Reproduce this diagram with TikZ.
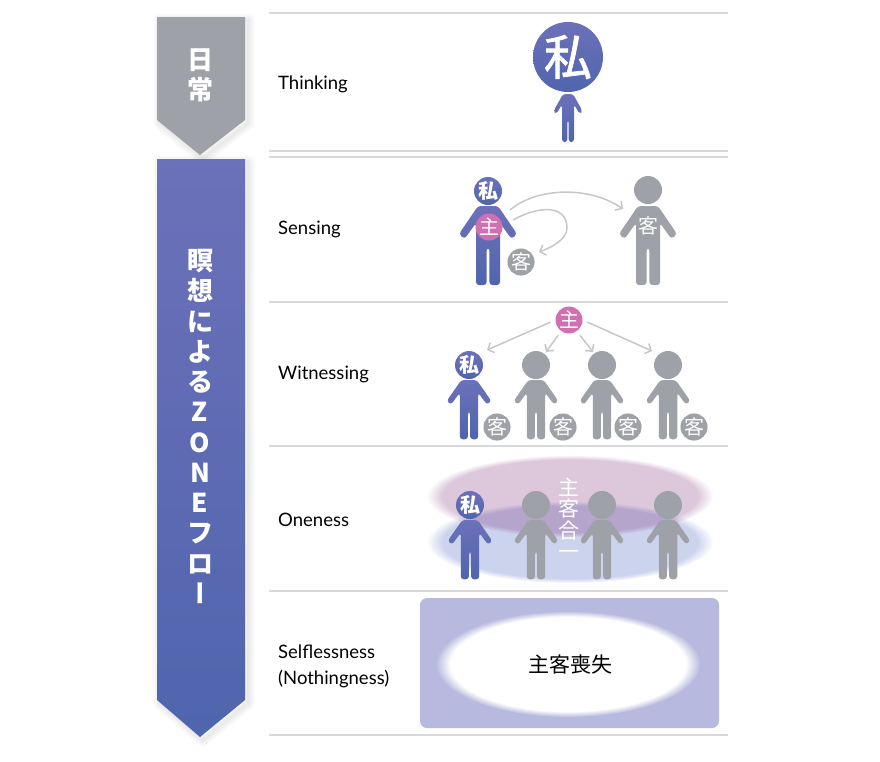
\documentclass[tikz,border=0pt]{standalone}
\usepackage{fontspec}
\setmainfont{Lato}
\newfontfamily\cjk{Noto Sans CJK JP}
\newfontfamily\cjkmid[FakeBold=1.6]{Noto Sans CJK JP}
\newfontfamily\cjkvert[RawFeature=+vert]{Noto Sans CJK JP}
\usetikzlibrary{arrows.meta,fadings,positioning}
\definecolor{rulegrey}{HTML}{D9D9D9}
\definecolor{figgrey}{HTML}{9FA1A8}
\definecolor{figblueA}{HTML}{6C71B9}
\definecolor{figblueB}{HTML}{4F65AE}
\definecolor{subjpink}{HTML}{D070B0}
\definecolor{arrowgrey}{HTML}{C6C8C6}
\pgfdeclareradialshading{softshade}{\pgfpointorigin}{color(0bp)=(pgftransparent!0); color(22.2bp)=(pgftransparent!0); color(25bp)=(pgftransparent!100); color(50bp)=(pgftransparent!100)}
\pgfdeclarefading{softedge}{\pgfuseshading{softshade}}
\tikzset{
    rulerow/.style={draw=rulegrey, line width=1.6pt},
    bluefill/.style={top color=figblueA, bottom color=figblueB},
    greyfill/.style={fill=figgrey},
    headnode/.style={circle, minimum size=28pt, inner sep=0pt, text=white, font=\cjk\bfseries\fontsize{20}{20}\selectfont},
    badge/.style={circle, minimum size=27pt, inner sep=0pt, text=white, font=\cjk\fontsize{20}{20}\selectfont},
    rowlabel/.style={anchor=west, inner sep=0pt, align=left, font=\fontsize{18.5}{26}\selectfont},
    flowarrow/.style={draw=arrowgrey, line width=1.5pt, -{Straight Barb[length=5pt, width=11pt]}},
    body/.pic={
        \path[pic actions, rounded corners=3pt] (-10,0) -- (10,0) -- (29,28) -- (23.5,33) -- (12,17) -- (12,79) -- (1.4,79) -- (1.4,42) -- (-1.4,42) -- (-1.4,79) -- (-12,79) -- (-12,17) -- (-23.5,33) -- (-29,28) -- cycle;
    }
}
\begin{document}
\begin{tikzpicture}[x=1pt, y=-1pt]
    \useasboundingbox (0,0) rectangle (880,761);
    % Row rules
    \foreach \y in {13,151,157,302,446,591,735} {
        \draw[rulerow] (269,\y) -- (728,\y);
    }
    % Soft shadows of the two bands
    \foreach \w in {2,4,...,14} {
        \draw[black, opacity=0.010, line width=\w pt, line join=round] (160,20) -- (248,20) -- (248,123) -- (203,158) -- (160,123) -- cycle;
        \draw[black, opacity=0.010, line width=\w pt, line join=round] (160,162) -- (248,162) -- (248,703) -- (203,740) -- (160,703) -- cycle;
    }
    % Bands on the left
    \fill[figgrey] (157,17) -- (245,17) -- (245,120) -- (200,155) -- (157,120) -- cycle;
    \shade[bluefill] (157,159) -- (245,159) -- (245,700) -- (200,737) -- (157,700) -- cycle;
    \node[text=white, align=center, font=\cjk\bfseries\fontsize{26}{30}\selectfont] (daily) at (200,75.5) {日\\常};
    \node[text=white, align=center, font=\cjk\bfseries\fontsize{26}{30.25}\selectfont] (zone) at (200,426.5) {瞑\\想\\に\\よ\\る\\Z\\O\\N\\E\\フ\\ロ\\{\cjkvert ー}};
    % Row labels
    \node[rowlabel] (thinking) at (278,84) {Thinking};
    \node[rowlabel] (sensing) at (278,229) {Sensing};
    \node[rowlabel] (witnessing) at (278,374) {Witnessing};
    \node[rowlabel] (oneness) at (278,520) {Oneness};
    \node[rowlabel] (selfless) at (278,666) {Selflessness\\(Nothingness)};
    % Thinking
    \pic[bluefill, xscale=0.5, yscale=0.61] at (568,94) {body};
    \node[headnode, bluefill, minimum size=70pt, font=\cjkmid\fontsize{48}{48}\selectfont] (meT) at (568,57) {私};
    % Sensing
    \pic[bluefill] at (488,206) {body};
    \node[headnode, bluefill] (meS) at (488,191) {私};
    \node[badge, fill=subjpink] (subjS) at (489,227) {主};
    \node[badge, greyfill] (objS) at (521,262) {客};
    \pic[greyfill] at (648,206) {body};
    \node[headnode, greyfill] (headS) at (648,190) {};
    \node[text=white, inner sep=0pt, font=\cjk\fontsize{20}{20}\selectfont] (objB) at (648,226) {客};
    \coordinate (startA) at (510,210);
    \coordinate (endA) at (623,209);
    \coordinate (startB) at (513,220);
    \coordinate (endB) at (539,252);
    \draw[flowarrow] (startA) .. controls (537,187) and (590,186) .. (endA);
    \draw[flowarrow] (startB) .. controls (540,205) and (567,205) .. (567,228) .. controls (567,240) and (550,248) .. (endB);
    % Witnessing
    \pic[bluefill, xscale=0.77, yscale=0.75] at (469,380) {body};
    \node[headnode, bluefill] (meW) at (469,365) {私};
    \foreach \x/\n in {536/a,602/b,668/c} {
        \pic[greyfill, xscale=0.77, yscale=0.75] at (\x,380) {body};
        \node[headnode, greyfill] (head\n) at (\x,365) {};
    }
    \foreach \x/\n in {497/a,563/b,628/c,694/d} {
        \node[badge, greyfill] (obj\n) at (\x,427) {客};
    }
    \node[badge, fill=subjpink] (subjW) at (569,320) {主};
    \coordinate (endC) at (487,350);
    \coordinate (endD) at (546,352);
    \coordinate (endE) at (593,352);
    \coordinate (endF) at (652,351);
    \draw[flowarrow, shorten <=5pt] (subjW.180) -- (endC);
    \draw[flowarrow, shorten <=5pt] (subjW.235) -- (endD);
    \draw[flowarrow, shorten <=5pt] (subjW.305) -- (endE);
    \draw[flowarrow, shorten <=5pt] (subjW.0) -- (endF);
    % Oneness
    \fill[path fading=softedge, fit fading=true, color={rgb,255:red,185;green,195;blue,230}, opacity=0.72] (570,542) ellipse [x radius=143, y radius=41];
    \fill[path fading=softedge, fit fading=true, color={rgb,255:red,100;green,0;blue,90}, opacity=0.22] (570,496) ellipse [x radius=143, y radius=41];
    \pic[bluefill, xscale=0.77, yscale=0.75] at (470,520) {body};
    \node[headnode, bluefill] (meO) at (470,505) {私};
    \foreach \x/\n in {536/d,602/e,668/f} {
        \pic[greyfill, xscale=0.77, yscale=0.75] at (\x,520) {body};
        \node[headnode, greyfill] (head\n) at (\x,505) {};
    }
    \node[text=white, align=center, font=\cjk\fontsize{21}{21.5}\selectfont] (union) at (569,518.5) {主\\客\\合\\一};
    % Selflessness
    \fill[color={rgb,255:red,183;green,186;blue,222}, rounded corners=7pt] (420,598) rectangle (719,728);
    \fill[white, path fading=softedge, fit fading=true] (568,664) ellipse [x radius=132, y radius=53];
    \node[font=\cjk\fontsize{21}{21}\selectfont] (loss) at (570,665) {主客喪失};
\end{tikzpicture}
\end{document}
